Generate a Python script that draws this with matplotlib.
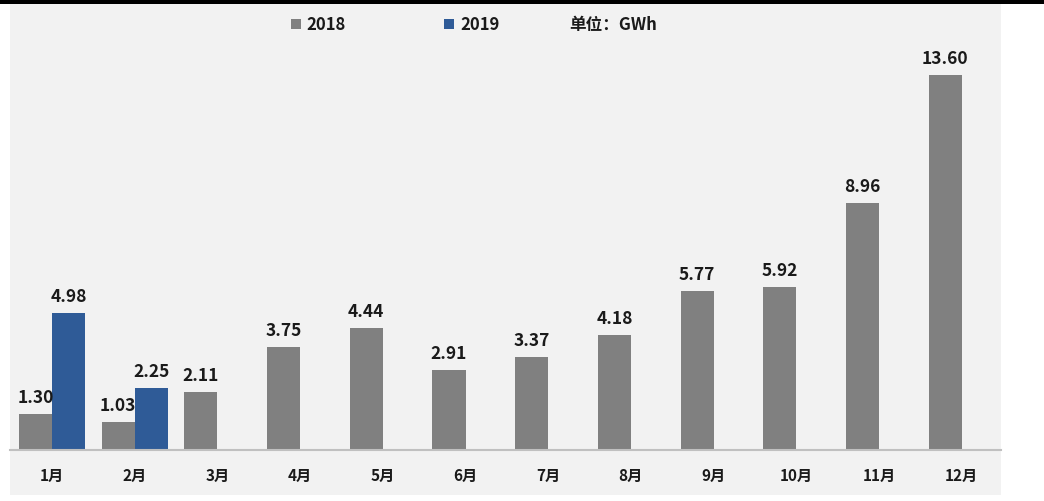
import numpy as np
import matplotlib
matplotlib.use("Agg")
from matplotlib import pyplot as plt
from matplotlib.patches import Rectangle

plt.rcParams["font.family"] = ["Noto Sans CJK SC", "DejaVu Sans"]
plt.rcParams["font.weight"] = "bold"

# monthly installed capacity, GWh
months = ["1月", "2月", "3月", "4月", "5月", "6月", "7月", "8月", "9月", "10月", "11月", "12月"]
y2018 = [1.30, 1.03, 2.11, 3.75, 4.44, 2.91, 3.37, 4.18, 5.77, 5.92, 8.96, 13.60]
y2019 = [4.98, 2.25]

grey = "#808080"
blue = "#2f5b97"

W, H = 1044, 501
fig = plt.figure(figsize=(W / 100, H / 100), dpi=100)
fig.patch.set_facecolor("white")

# grey panel and dark strip along the top edge
fig.patches.append(Rectangle((10 / W, 1 - 495 / H), 991 / W, 491 / H,
                             transform=fig.transFigure, facecolor="#f2f2f2",
                             edgecolor="none", zorder=-10))
fig.patches.append(Rectangle((0, 1 - 4 / H), 1, 4 / H, transform=fig.transFigure,
                             facecolor="black", edgecolor="none", zorder=-10))

ax = fig.add_axes([10 / W, (H - 450) / H, 991 / W, 441 / H])
ax.set_facecolor("none")

x = np.arange(len(months))
w = 0.4
b1 = ax.bar(x - w / 2, y2018, w, color=grey, label="2018")
b2 = ax.bar(x[:len(y2019)] + w / 2, y2019, w, color=blue, label="2019")

for bars, vals in ((b1, y2018), (b2, y2019)):
    for r, v in zip(bars, vals):
        ax.annotate(f"{v:.2f}", (r.get_x() + r.get_width() / 2, v),
                    xytext=(0, 5), textcoords="offset points",
                    ha="center", va="bottom", fontsize=12.5,
                    fontweight="bold", color="#1a1a1a")

ax.set_xlim(-0.508, 11.475)
ax.set_ylim(0, 16)
ax.set_xticks(x)
ax.set_xticklabels(months, fontsize=11, fontweight="bold", color="#1a1a1a")
ax.tick_params(axis="x", length=0, pad=13)
ax.set_yticks([])
for s in ("top", "right", "left"):
    ax.spines[s].set_visible(False)
ax.spines["bottom"].set_color("#c0c0c0")
ax.spines["bottom"].set_linewidth(1.5)

leg = ax.legend(ncol=2, loc="center left", bbox_to_anchor=(276 / W, 1 - 25 / H),
                bbox_transform=fig.transFigure, frameon=False,
                handlelength=0.6, handleheight=0.6, handletextpad=0.35,
                columnspacing=5.9, prop={"size": 12, "weight": "bold"})
for t in leg.get_texts():
    t.set_color("#1a1a1a")
fig.text(569 / W, 1 - 25 / H, "单位：GWh", ha="left", va="center",
         fontsize=12, fontweight="bold", color="#1a1a1a")

fig.savefig("out.png", dpi=100)
